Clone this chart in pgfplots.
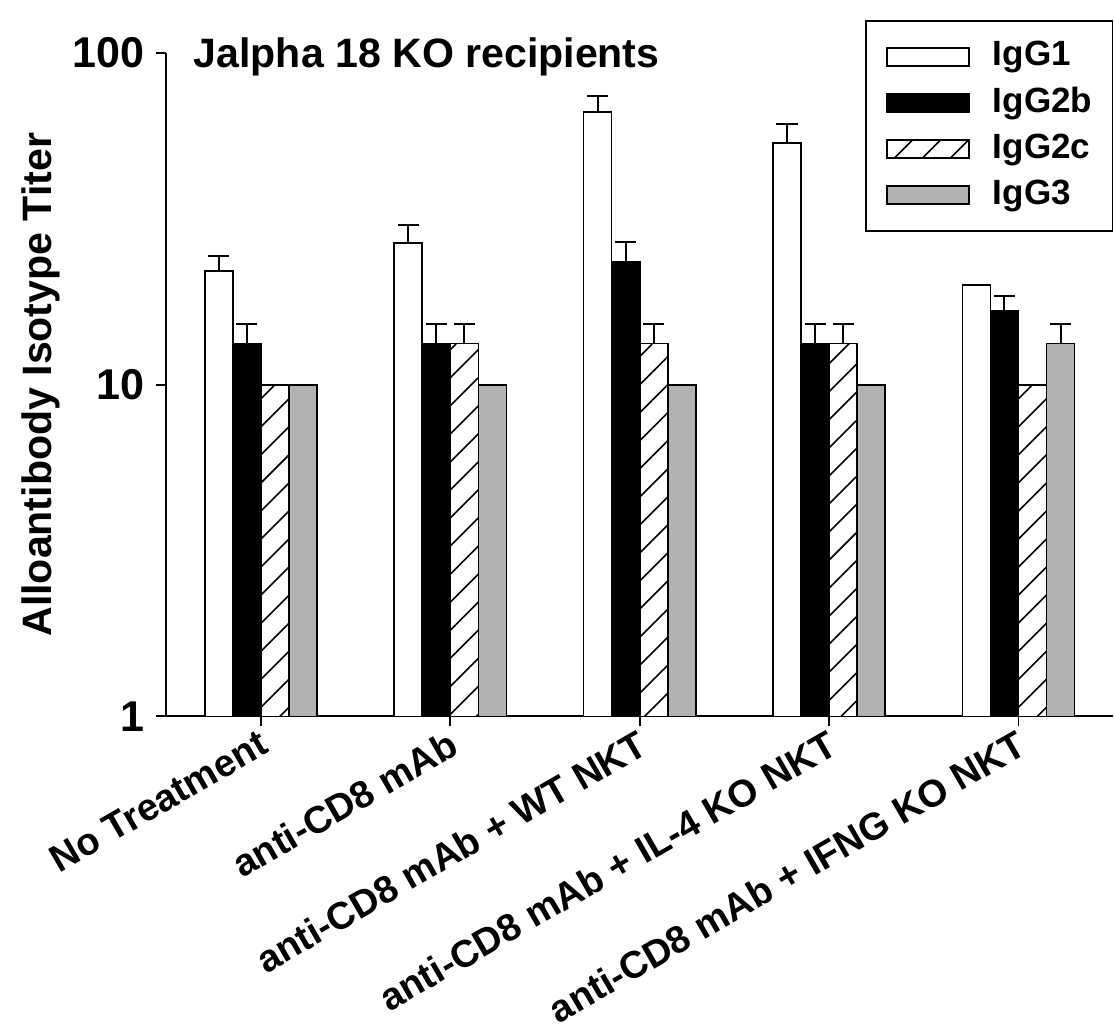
\documentclass[border=0pt]{standalone}
\usepackage{fontspec}
\setmainfont{Liberation Sans}
\usepackage{pgfplots}
\pgfplotsset{compat=1.18}
\usetikzlibrary{patterns.meta}
\definecolor{bargray}{RGB}{178,178,178}

\pgfplotstableread{
x  v1    e1   v2    e2   v3    e3   v4    e4
0  22.0  2.5  13.33 1.9  10.0  0    10.0  0
1  26.7  3.7  13.33 1.9  13.33 1.9  10.0  0
2  66.5  7.8  23.4  3.6  13.33 1.9  10.0  0
3  53.5  7.5  13.33 1.9  13.33 1.9  10.0  0
4  20.0  0    16.67 1.9  10.0  0    13.33 1.9
}\datatable

\begin{document}
\begin{tikzpicture}
\begin{axis}[
  scale only axis,
  width=472.5pt, height=331pt,
  clip=false,
  ymode=log, ymin=1, ymax=100,
  xmin=-0.5, xmax=4.5,
  axis lines*=left,
  axis line style={line width=0.9pt},
  ybar=0pt, bar width=14pt,
  xtick=data,
  xticklabels={No Treatment, anti-CD8 mAb, anti-CD8 mAb + WT NKT, anti-CD8 mAb + IL-4 KO NKT, anti-CD8 mAb + IFNG KO NKT},
  ytick={1,10,100},
  yticklabels={1,10,100},
  yminorticks=false,
  tick align=outside,
  major tick length=5pt,
  tick style={line width=0.9pt, black},
  /pgf/number format/assume math mode=true,
  yticklabel style={font=\fontsize{21.5}{24}\selectfont\bfseries, inner sep=0pt, xshift=-5.5pt},
  xticklabel style={font=\fontsize{19}{22}\selectfont\bfseries, rotate=30, anchor=north east, inner sep=0pt, xshift=-2pt},
  ylabel={Alloantibody Isotype Titer},
  ylabel style={font=\fontsize{20.5}{24}\selectfont\bfseries, at={(axis description cs:0,0.5)}, anchor=south, inner sep=0pt, yshift=53pt},
  legend style={at={(1,1)}, anchor=north east, yshift=16.5pt, draw=black, line width=0.8pt,
    inner xsep=10pt, inner ysep=10pt, row sep=7pt, column sep=11.5pt,
    font=\fontsize{17.5}{20}\selectfont\bfseries,
    nodes={inner sep=0pt, text height=12.5pt, text depth=3.5pt}},
  legend cell align=left,
  legend image code/.code={\draw[#1, line width=0.8pt] (0pt,-4.5pt) rectangle (41pt,4.5pt);},
  error bars/y dir=plus,
  error bars/y explicit,
  error bars/error bar style={line width=1pt, black},
  error bars/error mark options={rotate=90, mark size=5.25pt, line width=1pt, black},
]
\addplot[draw=black, line width=0.8pt, fill=white] table[x=x, y=v1, y error=e1] {\datatable};
\addplot[draw=black, line width=0.8pt, fill=black] table[x=x, y=v2, y error=e2] {\datatable};
\addplot[draw=black, line width=0.8pt, fill=white, postaction={pattern={Lines[angle=45, distance=9.9pt, line width=0.8pt]}}] table[x=x, y=v3, y error=e3] {\datatable};
\addplot[draw=black, line width=0.8pt, fill=bargray] table[x=x, y=v4, y error=e4] {\datatable};
\legend{IgG1, IgG2b, IgG2c, IgG3}
\node[anchor=base west, font=\fontsize{20.5}{24}\selectfont\bfseries, inner sep=0pt] at (axis description cs:0.0286,0.979) {Jalpha 18 KO recipients};
\path (axis description cs:0,0.5) ++(-83pt,0pt);
\path (axis description cs:1,1) ++(0pt,26.5pt);
\end{axis}
\end{tikzpicture}
\end{document}
